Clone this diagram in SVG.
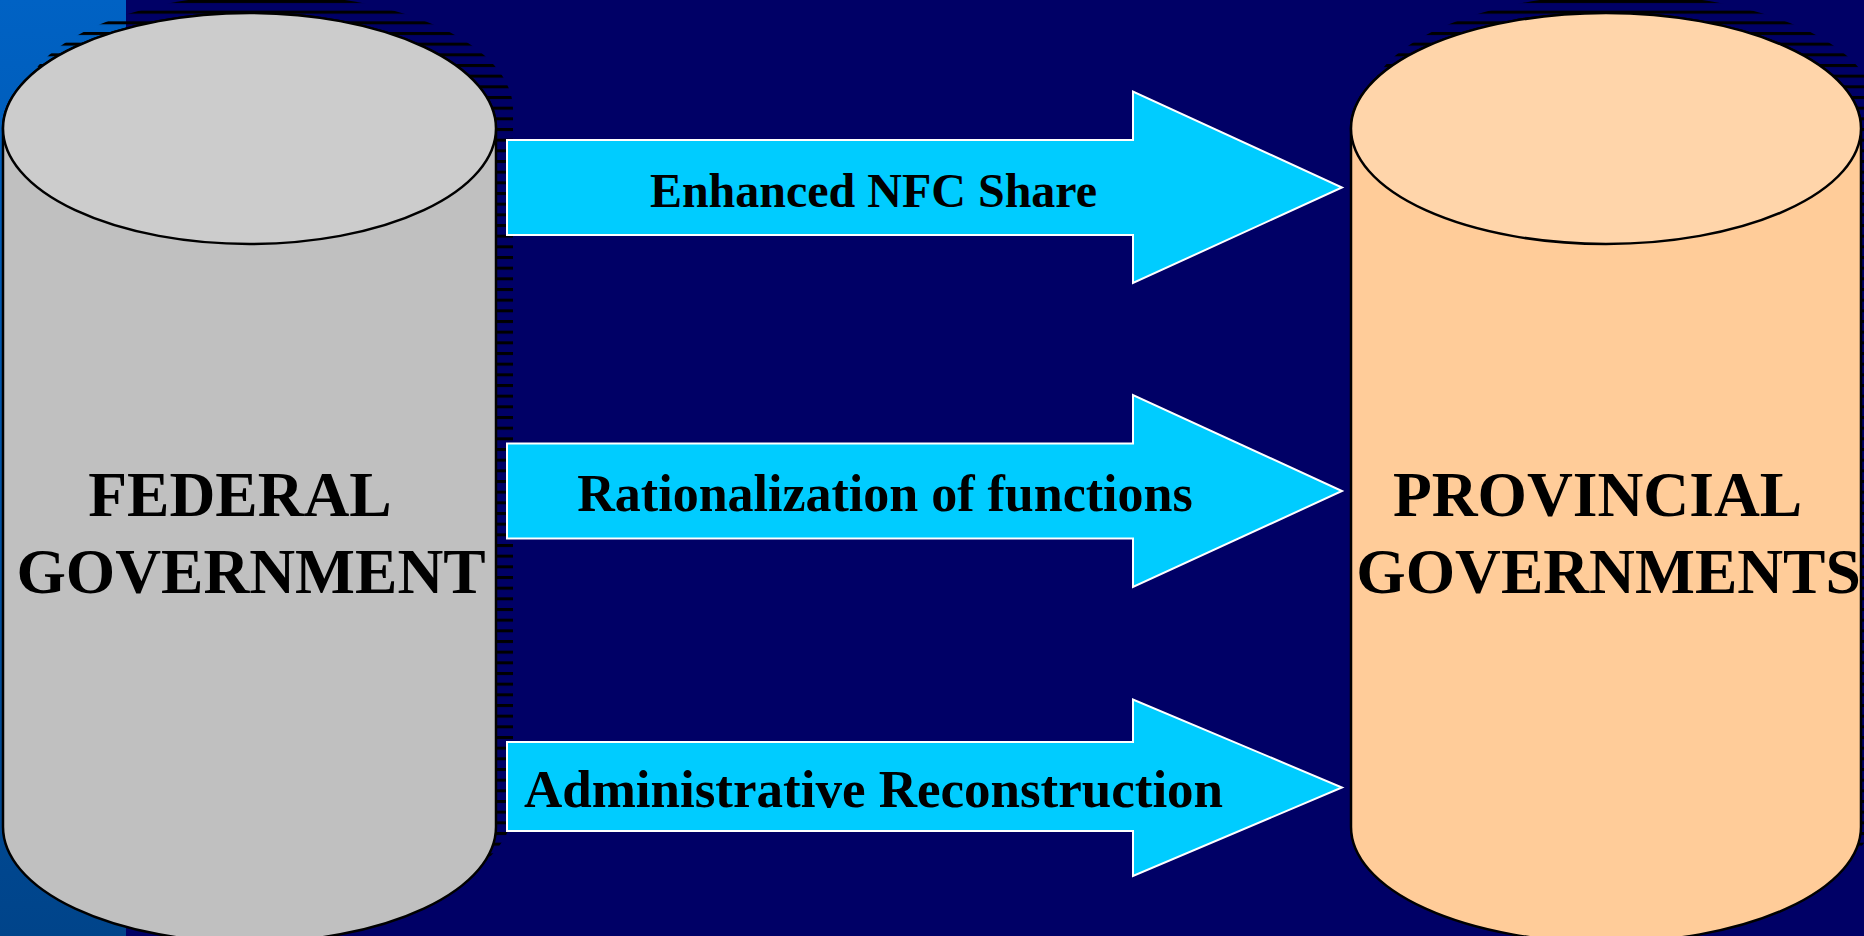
<svg xmlns="http://www.w3.org/2000/svg" width="1864" height="936" viewBox="0 0 1864 936">
<style>
.cyl{stroke:#000;stroke-width:2.5}
.arrow{fill:#00CCFF;stroke:#FFFFFF;stroke-width:2}
.lbl{font-family:"Liberation Serif","Times New Roman",serif;font-weight:bold;fill:#000;text-anchor:middle}
</style>
<defs>
<linearGradient id="strip" x1="0" y1="0" x2="0" y2="1">
<stop offset="0" stop-color="#0062C4"/>
<stop offset="1" stop-color="#00448A"/>
</linearGradient>
<pattern id="hatch" patternUnits="userSpaceOnUse" x="0" y="0" width="40" height="10.6667">
<rect x="0" y="0" width="40" height="3" fill="#000"/>
</pattern>
</defs>
<rect x="0" y="0" width="1864" height="936" fill="#000066"/>
<rect x="0" y="0" width="126" height="936" fill="url(#strip)"/>

<g id="federal">
<path d="M20,109.5 A246.5,115.5 0 0 1 513,109.5 L513,808 A246.5,115.5 0 0 1 20,808 Z" fill="url(#hatch)"/>
<path class="cyl" d="M3,128.5 A246.5,115.5 0 0 1 496,128.5 L496,827 A246.5,115.5 0 0 1 3,827 Z" fill="#C0C0C0"/>
<ellipse class="cyl" cx="249.5" cy="128.5" rx="246.5" ry="115.5" fill="#CCCCCC"/>
<text class="lbl" x="240" y="516" font-size="63.5">FEDERAL</text>
<text class="lbl" x="251" y="593" font-size="63.5">GOVERNMENT</text>
</g>

<g id="provincial">
<path d="M1366,109.5 A255,115.5 0 0 1 1876,109.5 L1876,808 A255,115.5 0 0 1 1366,808 Z" fill="url(#hatch)"/>
<path class="cyl" d="M1351,128.5 A255,115.5 0 0 1 1861,128.5 L1861,827 A255,115.5 0 0 1 1351,827 Z" fill="#FFCC99"/>
<ellipse class="cyl" cx="1606" cy="128.5" rx="255" ry="115.5" fill="#FFD5AA"/>
<text class="lbl" x="1597.5" y="516" font-size="63.5">PROVINCIAL</text>
<text class="lbl" x="1608.5" y="593" font-size="63.5">GOVERNMENTS</text>
</g>

<g id="connectors">
<g id="arrow-nfc">
<polygon class="arrow" points="507,140 1133,140 1133,91.5 1342,187.5 1133,283 1133,235 507,235"/>
<text class="lbl" x="873.5" y="207" font-size="48">Enhanced NFC Share</text>
</g>
<g id="arrow-rational">
<polygon class="arrow" points="507,443.5 1133,443.5 1133,395 1342,491 1133,587 1133,538.5 507,538.5"/>
<text class="lbl" x="885" y="511" font-size="52">Rationalization of functions</text>
</g>
<g id="arrow-admin">
<polygon class="arrow" points="507,742 1133,742 1133,699.5 1342,787.5 1133,876 1133,831 507,831"/>
<text class="lbl" x="873.5" y="806.5" font-size="53">Administrative Reconstruction</text>
</g>
</g>
</svg>
